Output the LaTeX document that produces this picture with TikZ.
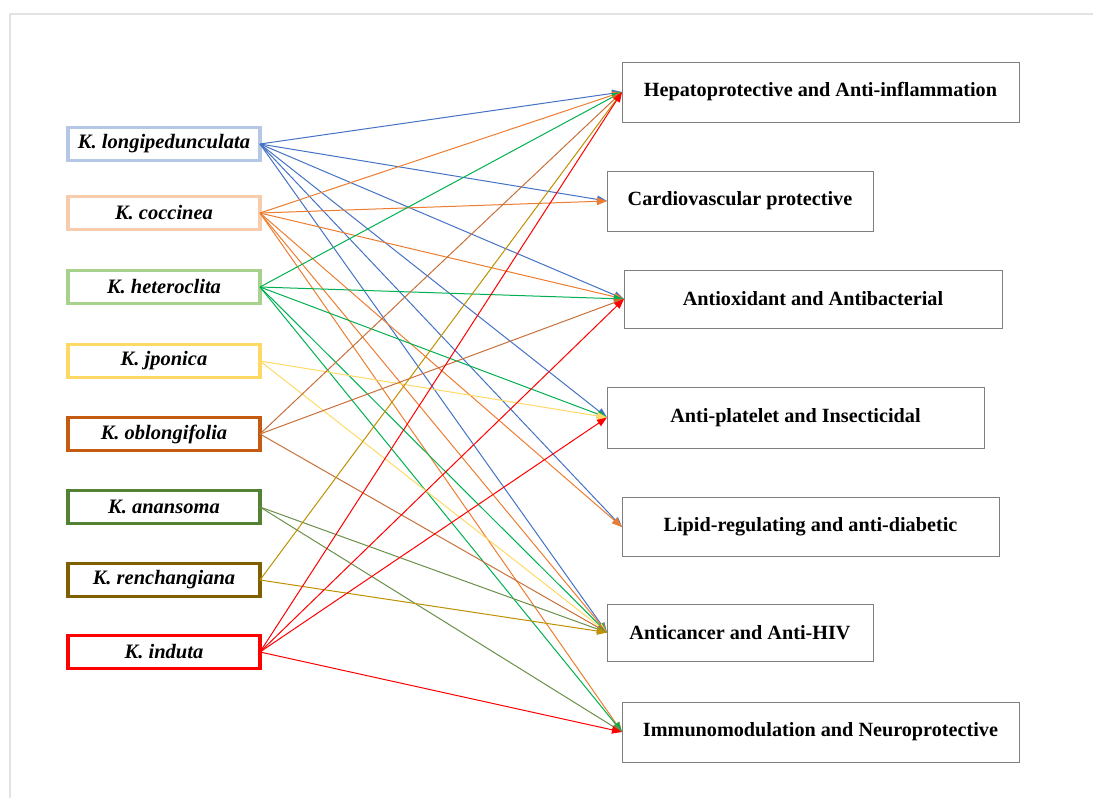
\documentclass[tikz,border=0pt]{standalone}
\usepackage{fontspec}
\setmainfont{Liberation Serif}
\usetikzlibrary{arrows.meta}
\definecolor{cLongi}{HTML}{B4C7E7}
\definecolor{cCocc}{HTML}{F8CBAD}
\definecolor{cHetero}{HTML}{A9D18E}
\definecolor{cJpon}{HTML}{FFD966}
\definecolor{cOblong}{HTML}{C55A11}
\definecolor{cAnan}{HTML}{548235}
\definecolor{cRench}{HTML}{7F6000}
\definecolor{cInduta}{HTML}{FF0000}
\definecolor{lBlue}{HTML}{4472C4}
\definecolor{lOrange}{HTML}{ED7D31}
\definecolor{lGreen}{HTML}{00B050}
\definecolor{lYellow}{HTML}{FFD966}
\definecolor{lBrown}{HTML}{C8703A}
\definecolor{lOlive}{HTML}{6A8F4A}
\definecolor{lGold}{HTML}{BF9000}
\definecolor{lRed}{HTML}{FF0000}
\definecolor{frameGray}{HTML}{E3E3E3}
\definecolor{boxGray}{HTML}{7F7F7F}
\begin{document}
\begin{tikzpicture}[x=1pt,y=-1pt,
  species/.style={draw=#1, line width=3.3pt, minimum width=192pt, minimum height=33pt,
    inner sep=0pt, outer sep=0pt, font=\fontsize{20.5}{23}\selectfont\bfseries\itshape},
  effect/.style={draw=boxGray, line width=0.9pt, inner sep=0pt, outer sep=0pt,
    font=\fontsize{20.2}{23}\selectfont\bfseries},
  link/.style={draw=#1, line width=1pt, -{Triangle[length=10pt,width=7.5pt]}}]
\useasboundingbox (0,0) rectangle (1093,798);
\draw[frameGray, line width=2pt] (10,830) -- (10,14) -- (1110,14);
% species
\node[species=cLongi] (s1) at (164,144) {K. longipedunculata};
\node[species=cCocc] (s2) at (164,213) {K. coccinea};
\node[species=cHetero] (s3) at (164,287) {K. heteroclita};
\node[species=cJpon] (s4) at (164,361) {K. jponica};
\node[species=cOblong] (s5) at (164,434) {K. oblongifolia};
\node[species=cAnan] (s6) at (164,507) {K. anansoma};
\node[species=cRench] (s7) at (164,580) {K. renchangiana};
\node[species=cInduta] (s8) at (164,652) {K. induta};
% effects
\node[effect, minimum width=397pt, minimum height=60pt] (e1) at (820.5,92) {Hepatoprotective and Anti-inflammation};
\node[effect, minimum width=266pt, minimum height=60pt] (e2) at (740,201) {Cardiovascular protective};
\node[effect, minimum width=378pt, minimum height=58pt] (e3) at (813,299) {Antioxidant and Antibacterial};
\node[effect, minimum width=377pt, minimum height=61pt] (e4) at (795.5,417.5) {Anti-platelet and Insecticidal};
\node[effect, minimum width=377pt, minimum height=59pt] (e5) at (810.5,527) {Lipid-regulating and anti-diabetic};
\node[effect, minimum width=266pt, minimum height=57pt] (e6) at (740,632.5) {Anticancer and Anti-HIV};
\node[effect, minimum width=397pt, minimum height=60pt] (e7) at (820.5,732) {Immunomodulation and Neuroprotective};
% links
\foreach \t in {e1,e2,e3,e4,e5,e6} \draw[link=lBlue] (s1.east) -- (\t.west);
\foreach \t in {e1,e2,e3,e5,e6,e7} \draw[link=lOrange] (s2.east) -- (\t.west);
\foreach \t in {e1,e3,e4,e6,e7} \draw[link=lGreen] (s3.east) -- (\t.west);
\foreach \t in {e4,e6} \draw[link=lYellow] (s4.east) -- (\t.west);
\foreach \t in {e1,e3,e6} \draw[link=lBrown] (s5.east) -- (\t.west);
\foreach \t in {e6,e7} \draw[link=lOlive] (s6.east) -- (\t.west);
\foreach \t in {e1,e6} \draw[link=lGold] (s7.east) -- (\t.west);
\foreach \t in {e1,e3,e4,e7} \draw[link=lRed] (s8.east) -- (\t.west);
\end{tikzpicture}
\end{document}
